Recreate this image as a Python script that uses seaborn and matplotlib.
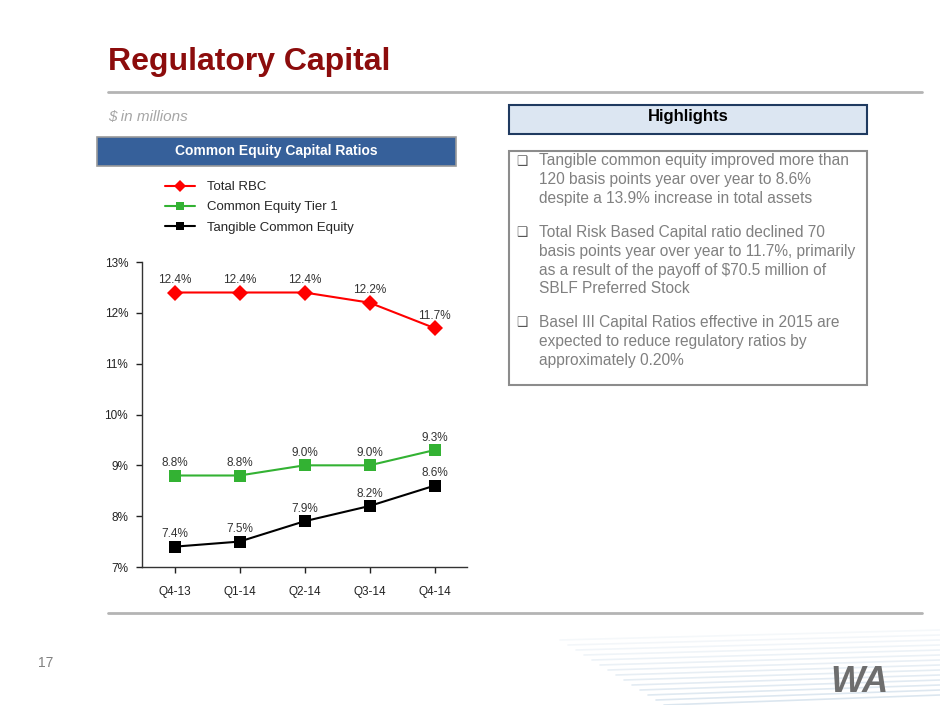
"""Regulatory capital slide: common equity capital ratios by quarter."""
import matplotlib
matplotlib.use("Agg")
import matplotlib.pyplot as plt
from matplotlib.patches import Rectangle
import pandas as pd
import seaborn as sns

quarters = ["Q4-13", "Q1-14", "Q2-14", "Q3-14", "Q4-14"]
total_rbc = [12.4, 12.4, 12.4, 12.2, 11.7]
cet1 = [8.8, 8.8, 9.0, 9.0, 9.3]
tce = [7.4, 7.5, 7.9, 8.2, 8.6]
series_names = ["Total RBC", "Common Equity Tier 1", "Tangible Common Equity"]
y_ticks = [7, 8, 9, 10, 11, 12, 13]

highlights = [
    ["Tangible common equity improved more than",
     "120 basis points year over year to 8.6%",
     "despite a 13.9% increase in total assets"],
    ["Total Risk Based Capital ratio declined 70",
     "basis points year over year to 11.7%, primarily",
     "as a result of the payoff of $70.5 million of",
     "SBLF Preferred Stock"],
    ["Basel III Capital Ratios effective in 2015 are",
     "expected to reduce regulatory ratios by",
     "approximately 0.20%"],
]

sns.set_style("white")
plt.rcParams["font.family"] = ["Liberation Sans", "DejaVu Sans"]

df = pd.DataFrame({
    "Quarter": quarters * 3,
    "idx": list(range(len(quarters))) * 3,
    "Ratio": total_rbc + cet1 + tce,
    "Series": [s for s in series_names for _ in quarters],
})

W, H = 940, 705
fig = plt.figure(figsize=(W / 100, H / 100), dpi=100)


def fx(px):
    return px / W


def fy(py):
    return 1 - py / H


# slide furniture
fig.text(fx(108), fy(62), "Regulatory Capital", fontsize=23, fontweight="bold",
         color="#8c0c0c", va="center", ha="left")
fig.add_artist(plt.Line2D([fx(108), fx(922)], [fy(92), fy(92)], color="#b4b4b4", lw=2))
fig.add_artist(plt.Line2D([fx(108), fx(922)], [fy(613), fy(613)], color="#b4b4b4", lw=2))
fig.text(fx(108), fy(117), "$ in millions", fontsize=11, style="italic",
         color="#a6a6a6", va="center")
fig.text(fx(38), fy(663), "17", fontsize=10, color="#808080", va="center")

# faint decorative stripes + logo
for i in range(14):
    yy = 640 + i * 5
    fig.add_artist(plt.Line2D([fx(560 + i * 8), fx(940)], [fy(yy), fy(yy - 10)],
                              color="#5b8db8", lw=1.2, alpha=0.06 + i * 0.012))
fig.text(fx(830), fy(683), "WA", fontsize=26, fontweight="bold", color="#6e6e6e",
         va="center", ha="left", style="italic")

# chart header box
fig.add_artist(Rectangle((fx(97), fy(166)), fx(456 - 97), (166 - 137) / H,
                         facecolor="#36609a", edgecolor="#9a9a9a", lw=1.2))
fig.text(fx(276), fy(151), "Common Equity Capital Ratios", fontsize=10,
         fontweight="bold", color="white", ha="center", va="center")

# highlights header
fig.add_artist(Rectangle((fx(509), fy(134)), fx(867 - 509), (134 - 105) / H,
                         facecolor="#dce6f2", edgecolor="#1f3a60", lw=1.5))
fig.text(fx(688), fy(116), "Highlights", fontsize=12, fontweight="bold",
         color="black", ha="center", va="center")

# highlights body
fig.add_artist(Rectangle((fx(509), fy(385)), fx(867 - 509), (385 - 151) / H,
                         facecolor="white", edgecolor="#8c8c8c", lw=1.5))
y = 161
for para in highlights:
    fig.text(fx(522), fy(y), "\u2751", fontsize=9, color="#555555",
             ha="center", va="center", family=["DejaVu Sans"])
    for line in para:
        fig.text(fx(539), fy(y), line, fontsize=11.2, color="#808080", va="center")
        y += 18.8
    y += 15

# chart
ax = fig.add_axes([fx(142), fy(567), fx(467 - 142), (567 - 262) / H])
palette = {"Total RBC": "#ff0000", "Common Equity Tier 1": "#33b233",
           "Tangible Common Equity": "#000000"}
markers = {"Total RBC": "D", "Common Equity Tier 1": "s", "Tangible Common Equity": "s"}
sns.lineplot(data=df, x="idx", y="Ratio", hue="Series", style="Series",
             palette=palette, markers=markers, dashes=False, markersize=8,
             markeredgewidth=0, linewidth=1.5, ax=ax)

for _, row in df.iterrows():
    ax.annotate(f"{row['Ratio']:.1f}%", (row["idx"], row["Ratio"]),
                xytext=(0, 9), textcoords="offset points", ha="center",
                va="center", fontsize=8.5, color="#333333")

ax.set_xlim(-0.5, 4.5)
ax.set_ylim(7, 13)
ax.set_xticks(range(len(quarters)))
ax.set_xticklabels(quarters)
ax.set_yticks(y_ticks)
ax.set_yticklabels([f"{t}%" for t in y_ticks])
ax.set_xlabel("")
ax.set_ylabel("")
ax.tick_params(axis="both", labelsize=8.5, colors="#222222", length=4,
               width=1, direction="out", left=True, bottom=True)
ax.tick_params(axis="x", pad=10)
ax.tick_params(axis="y", pad=6)
for side in ["top", "right"]:
    ax.spines[side].set_visible(False)
for side in ["left", "bottom"]:
    ax.spines[side].set_color("#333333")
    ax.spines[side].set_linewidth(1)

ax.legend(loc="upper left", bbox_to_anchor=(fx(165), fy(181)),
          bbox_transform=fig.transFigure, frameon=False, fontsize=9.5,
          handlelength=2.3, labelspacing=0.6, handletextpad=0.9,
          markerscale=0.75, borderaxespad=0, borderpad=0)

fig.savefig("out.png", dpi=100)
